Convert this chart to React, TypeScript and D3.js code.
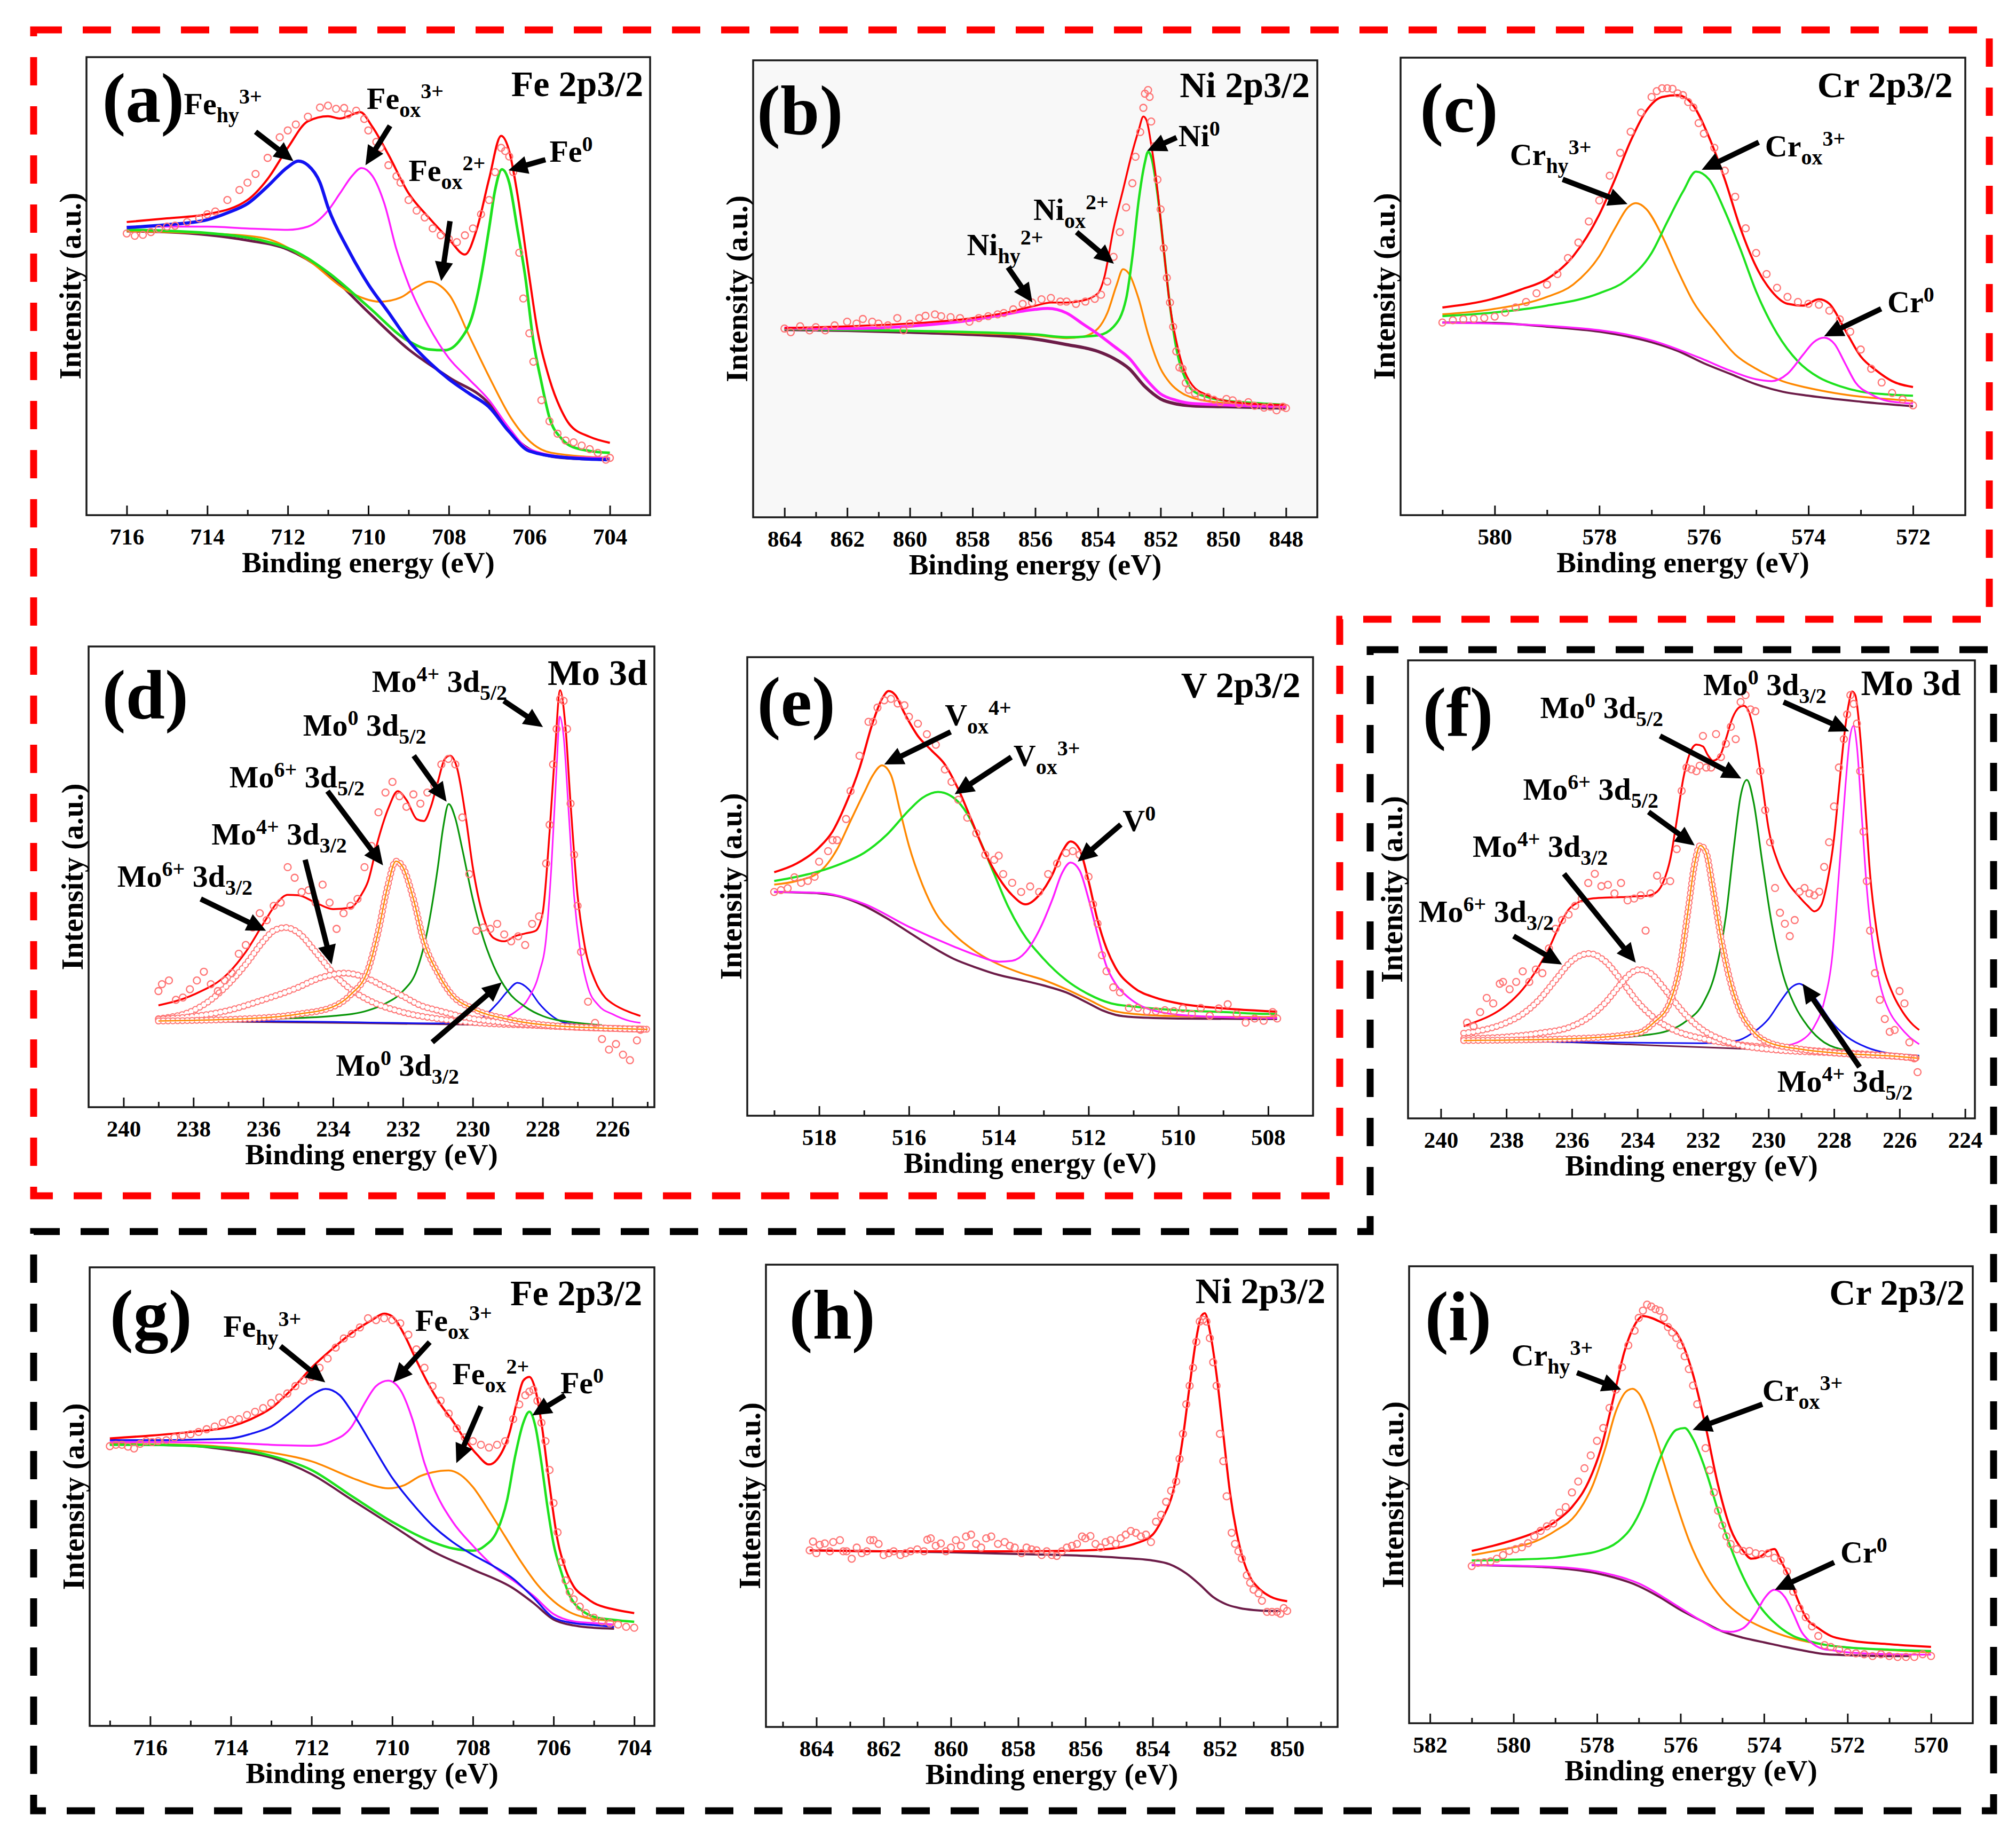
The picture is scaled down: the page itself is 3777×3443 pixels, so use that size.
import React, { useEffect, useRef } from 'react';
import * as d3 from 'd3';

type Pt = [number, number];
type Part = [string, string?];
type Label = { x: number; y: number; parts: Part[] };
type Arrow = [number, number, number, number];

// intensity is in % of the plot height (0 = bottom axis, 100 = top)

// (a) Fe 2p3/2, first sample
const aTicks = [716, 714, 712, 710, 708, 706, 704];
const aMinor = [715, 713, 711, 709, 707, 705];
const aBg: Pt[] = [[716,62],[715,61.8],[714,61.2],[713,60],[712,58],[711,52.7],[710,44.3],[709,36.2],[708,30.1],[707,24.3],[706.5,18.2],[706,14.4],[705.5,12.9],[705,12.4],[704,12.1]];
const aOrange: Pt[] = [[716,62],[714,61.5],[713,61],[712.5,60.3],[711.5,55.7],[710.5,48.9],[709.7,46.6],[709.2,47.5],[708.8,49.8],[708.49,51],[708.2,50],[707.98,48],[707.48,38.9],[706.97,29.7],[706.46,21.3],[705.96,15.9],[705.45,13.6],[704,12.5]];
const aGreen: Pt[] = [[716,62.3],[714,61.6],[712,58.3],[711,53],[710,45.5],[709,38],[708.5,36.2],[708.1,36],[707.7,38.5],[707.4,44],[707.2,52],[707,62.6],[706.85,71],[706.68,75.5],[706.5,72.6],[706.3,62.6],[706.1,52],[705.9,38],[705.7,29],[705.5,21.3],[705.2,16.7],[705,15.2],[704.5,14],[704,13.6]];
const aMag: Pt[] = [[716,63],[714,63],[713,62.6],[712,62.3],[711.5,63],[711,66.5],[710.7,70.3],[710.4,74.1],[710.17,75.8],[709.9,74.1],[709.6,68],[709.3,58],[709,50.4],[708.5,41.2],[708,34.3],[707.5,29.7],[707,25.1],[706.5,19],[706,14.4],[705,12.7],[704,12.5]];
const aBlue: Pt[] = [[716,62.8],[715,63.4],[714,64.5],[713.5,66],[713,68],[712.5,71.8],[712,76],[711.74,77.3],[711.5,76.4],[711.2,72.6],[711,67.2],[710.5,58],[710,50.4],[709.5,44.3],[709,38.1],[708.5,33.5],[708,29.7],[707.5,26.6],[707,23.6],[706.5,18.2],[706,14],[705,12.5],[704,12.1]];
const aRed: Pt[] = [[716,64],[715,64.8],[714,65.7],[713,68.8],[712.5,73.4],[712,80.2],[711.5,86],[711,87.1],[710.7,86.6],[710.5,87.1],[710.2,88],[709.9,84.8],[709.5,78.7],[709,70.3],[708.5,65],[708,60.3],[707.6,56.9],[707.3,62.6],[707,73.4],[706.7,82.8],[706.5,79.5],[706.3,70.3],[706,52],[705.8,40.4],[705.5,29.7],[705.2,22.8],[705,19.8],[704.5,17.1],[704,15.8]];
const aPts: Pt[] = [[716,61.5],[715.8,61],[715.6,61.2],[715.4,61.8],[715.2,62.5],[715,63],[714.8,63.2],[714.5,64],[714.2,64.8],[714,65.7],[713.8,66.3],[713.5,68.8],[713.2,71],[713,72.6],[712.8,74.5],[712.5,78],[712.2,82.5],[712,84],[711.8,85.3],[711.5,87],[711.2,89],[711,89.4],[710.8,88.7],[710.6,88.9],[710.5,87.5],[710.3,88.3],[710.1,86.5],[710,84],[709.8,81.5],[709.7,80.2],[709.5,76.4],[709.3,74],[709.2,72.6],[709,68.8],[708.8,66.5],[708.6,65],[708.4,62.6],[708.2,61.1],[708,60.3],[707.8,59.6],[707.6,61.1],[707.4,62.6],[707.2,65.7],[707,68.8],[706.85,74.9],[706.7,80.2],[706.6,79.5],[706.5,78.3],[706.4,74.9],[706.25,57.3],[706.15,47.3],[706,39.7],[705.9,33.5],[705.7,25.1],[705.5,20.5],[705.3,17.8],[705.1,16.3],[704.9,15.9],[704.7,15.2],[704.5,14.4],[704.3,13.6],[704.1,12.1],[704,12.5]];

// (b) Ni 2p3/2, first sample
const bTicks = [864, 862, 860, 858, 856, 854, 852, 850, 848];
const bMinor = [863, 861, 859, 857, 855, 853, 851, 849];
const bBg: Pt[] = [[864,41.1],[862,40.9],[860,40.5],[858,40],[856,39],[855,37.8],[854,36.3],[853.5,34.8],[853,32.5],[852.5,28.6],[852,25.9],[851.5,24.8],[851,24.4],[850,24.2],[848,23.9]];
const bOrange: Pt[] = [[864,41.2],[860,40.8],[858,40.3],[856,39.8],[855,39.2],[854.5,39.5],[854,41.3],[853.7,44.7],[853.4,50.9],[853.2,54.3],[853,53.2],[852.7,47.8],[852.4,40.1],[852,32.5],[851.7,29.4],[851.3,27.1],[851,26.2],[850,25],[848,24.2]];
const bGreen: Pt[] = [[864,41.2],[860,40.8],[856,40],[855,39.4],[854,39.8],[853.5,41.7],[853.1,47.8],[852.9,57],[852.7,69.3],[852.5,77.7],[852.4,80],[852.3,78.9],[852.1,70.9],[851.9,58.6],[851.7,46.3],[851.5,37.1],[851.2,30.2],[851,27.9],[850.5,26.3],[850,25.6],[849,25],[848,24.6]];
const bMag: Pt[] = [[864,41.4],[862,41.3],[860,41.8],[858,43.2],[857,44.4],[856,45.5],[855.6,45.7],[855,44.7],[854.5,42.4],[854,40.1],[853.5,37.5],[853,34.8],[852.5,30.5],[852,27],[851.5,25.6],[851,24.9],[850,24.6],[848,24.2]];
const bRed: Pt[] = [[864,41.4],[862,41.8],[860,42.4],[858,43.6],[857,44.7],[856,46.3],[855.5,47],[855,47],[854.5,47.4],[854,49],[853.8,52.4],[853.5,63.2],[853.2,71.6],[852.9,80],[852.7,84.7],[852.55,87.7],[852.45,86.9],[852.3,81.6],[852.1,71.6],[851.9,58.6],[851.7,46.3],[851.5,38.6],[851.3,33.2],[851,29],[850.5,26.7],[850,25.6],[849,24.8],[848,24.6]];
const bPts: Pt[] = [[864,41.3],[863.8,40.5],[863.5,41.8],[863.2,40.9],[863,41.6],[862.7,40.9],[862.4,42],[862,42.8],[861.7,42.4],[861.5,43.4],[861.2,42.8],[861,42.4],[860.7,42],[860.4,43.6],[860.2,40.9],[860,42.4],[859.7,43.6],[859.5,44.1],[859.2,44.4],[859,44],[858.7,43.8],[858.4,43.6],[858.1,42.8],[857.8,43.6],[857.5,44],[857.2,44.4],[857,44.7],[856.7,45.5],[856.4,46.7],[856.1,47],[855.8,47.7],[855.5,48],[855.2,47.2],[855,47.2],[854.7,46.7],[854.4,47.2],[854.1,47.8],[853.9,48.7],[853.7,51.6],[853.5,57],[853.3,62.4],[853.1,67.8],[852.9,73.1],[852.8,78.9],[852.65,84.3],[852.55,89.6],[852.5,92.7],[852.4,93.5],[852.35,92],[852.3,86.6],[852.2,81.2],[852.1,73.9],[852,67.4],[851.9,58.9],[851.8,52.4],[851.7,47],[851.6,41.7],[851.5,36.3],[851.4,32.8],[851.3,32.5],[851.2,29.4],[851.1,27.9],[850.9,27.1],[850.7,26.3],[850.5,26.3],[850.3,25.7],[850.1,25.2],[849.9,25.9],[849.7,25.6],[849.5,24.8],[849.2,25.2],[849,24.4],[848.7,24],[848.5,24.2],[848.3,23.4],[848.1,24.2],[848,23.9]];

// (c) Cr 2p3/2, first sample
const cTicks = [580, 578, 576, 574, 572];
const cMinor = [581, 579, 577, 575, 573];
const cBg: Pt[] = [[581,42.1],[580,42],[579,41.2],[578,40.1],[577,37.8],[576.5,35.9],[576,33.2],[575.5,30.9],[575,28.6],[574.5,27],[574,26.1],[573,24.8],[572,23.8]];
const cOrange: Pt[] = [[581,43.9],[580,45.1],[579,47.7],[578.5,50.4],[578,56.6],[577.7,62.7],[577.45,67.3],[577.3,68.2],[577.1,66.9],[576.8,61.1],[576.5,53.5],[576.2,46.6],[575.8,40.5],[575.4,35.1],[575,32],[574.5,29.3],[574,27.8],[573.5,26.7],[573,25.9],[572,25]];
const cGreen: Pt[] = [[581,43.5],[580,44.3],[579,45.8],[578,48.5],[577.5,51.2],[577,57.3],[576.7,64.1],[576.4,70.7],[576.15,75.1],[575.9,73.4],[575.6,66.5],[575.3,58.1],[575,48.9],[574.6,39.7],[574.2,33.6],[573.8,30.1],[573.4,28.2],[573,27],[572.5,26.4],[572,26.1]];
const cMag: Pt[] = [[581,42.1],[579,41.4],[577,38.2],[576,34],[575.5,31.6],[575,29.7],[574.7,29.3],[574.4,30.9],[574.1,35.1],[573.9,37.8],[573.7,38.8],[573.5,37.4],[573.3,33.2],[573.1,29],[572.8,26.4],[572.5,25],[572,24.4]];
const cRed: Pt[] = [[581,45.4],[580,47.4],[579.5,49.3],[579,51.6],[578.5,56.6],[578,65.7],[577.7,73.4],[577.4,81.8],[577.1,88.4],[576.8,91.4],[576.5,91.8],[576.2,89.5],[575.9,82.6],[575.6,73.4],[575.3,62.7],[575,54.3],[574.7,48.9],[574.4,46.2],[574.1,45.8],[573.8,47.2],[573.6,46.2],[573.3,40.5],[573,34.7],[572.7,31.6],[572.4,29.3],[572,28]];
const cPts: Pt[] = [[581,42.1],[580.8,42.6],[580.6,42.8],[580.4,42.9],[580.2,43.1],[580,43.4],[579.8,44.3],[579.6,45.4],[579.4,46.6],[579.2,48.5],[579,50.4],[578.8,52.7],[578.6,56.2],[578.4,59.6],[578.2,64.2],[578,68.8],[577.8,74.2],[577.6,79.2],[577.4,83.8],[577.2,88],[577,91.4],[576.9,92.7],[576.8,93.3],[576.7,93.3],[576.6,93.2],[576.5,92.2],[576.4,91.8],[576.3,90.3],[576.2,89.1],[576.1,85.7],[576,83.4],[575.8,80.3],[575.6,75.3],[575.4,69.6],[575.2,62.7],[575,57.3],[574.8,52.7],[574.6,49.7],[574.4,47.7],[574.2,46.6],[574,46.2],[573.8,46],[573.6,44.7],[573.4,42.8],[573.2,40.1],[573,36.2],[572.8,32],[572.6,29],[572.4,26.7],[572.2,25.3],[572,24]];

// (d) Mo 3d, first sample
const dTicks = [240, 238, 236, 234, 232, 230, 228, 226];
const dMinor = [239, 237, 235, 233, 231, 229, 227, 225];
const dBg: Pt[] = [[239,18.7],[234,18.3],[230,17.9],[227,17.4],[225,16.8]];
const dBlue: Pt[] = [[239,18.9],[234,18.5],[231,18.2],[229.9,18.6],[229.6,20.2],[229.3,22.5],[229,25.2],[228.72,27],[228.4,25.6],[228.1,22.5],[227.8,20.2],[227.4,18.4],[227,17.9],[226.5,17.4],[226,17.2]];
const dMag: Pt[] = [[229.5,18.4],[229.2,19.1],[228.8,20.6],[228.4,23.7],[228.1,29.1],[227.9,36.7],[227.75,52.1],[227.6,73.6],[227.51,84.8],[227.4,80.6],[227.25,63.6],[227.1,46],[226.9,32.9],[226.7,26],[226.4,22.1],[226,20.2],[225.5,18.7],[225.2,18.3]];
const dGreen: Pt[] = [[239,18.7],[236,19.1],[234,19.8],[233,21],[232.5,22.5],[232,25.2],[231.6,29.8],[231.3,38.3],[231,52.1],[230.85,60.6],[230.69,65.8],[230.5,62.7],[230.3,56],[230,45.2],[229.7,36.7],[229.4,30.6],[229,25.2],[228.5,21.8],[228,19.8],[227,18.3],[226.3,17.8]];
const dMo6a: Pt[] = [[239,19.2],[238,21],[237.5,23.3],[237,26.7],[236.5,31],[236,36],[235.7,38.3],[235.36,39],[235,37.9],[234.5,33.7],[234,29.1],[233.5,25.6],[233,23.3],[232,20.6],[231,19.2],[230,18.4],[228,17.7],[226,17.1],[225,16.9]];
const dMo4a: Pt[] = [[239,19.1],[238,19.7],[237,21],[236,23.3],[235,26],[234.5,27.7],[234,28.8],[233.69,29.1],[233.3,28.7],[233,27.9],[232.5,26],[232,24.1],[231.5,22.1],[231,21],[230,19.2],[229,18.3],[228,17.7],[226,17.1],[225,16.9]];
const dMo6b: Pt[] = [[239,18.7],[236,19.4],[235,20.2],[234,21.8],[233.5,24.4],[233,29.8],[232.7,38.3],[232.45,47.5],[232.2,53.4],[232,52.1],[231.7,45.2],[231.4,36],[231,29.1],[230.6,24.4],[230,21.4],[229,19.1],[228,17.9],[226,17.1],[225,16.9]];
const dRed: Pt[] = [[239,22.1],[238,24.4],[237,29.1],[236.5,33.7],[236,39.8],[235.6,44.4],[235.3,46.1],[235,46],[234.5,44.4],[234,43],[233.5,43.3],[233.2,46],[233,49],[232.7,58.3],[232.4,65.2],[232.15,68.6],[231.9,66.7],[231.6,62.5],[231.4,62.1],[231.2,65.2],[231,70.6],[230.8,75.6],[230.65,76.3],[230.45,73.6],[230.2,62.9],[230,52.1],[229.7,41.4],[229.4,36.7],[229.1,36],[228.8,37.1],[228.5,37.7],[228.2,38.3],[228,42.1],[227.8,59.8],[227.65,76.7],[227.5,90.5],[227.35,82.9],[227.2,65.9],[227,46],[226.8,35.2],[226.5,27.5],[226.2,23.7],[226,22.5],[225.5,20.6],[225.2,19.8]];
const dPts: Pt[] = [[239,25.2],[238.9,26.7],[238.7,27.5],[238.5,23.3],[238.3,23.8],[238.1,25.6],[237.9,27.5],[237.7,29.4],[237.5,26.7],[237.3,25.2],[237.1,27.5],[236.9,29.1],[236.7,33.3],[236.5,35.2],[236.3,39],[236.1,42.1],[235.9,40.6],[235.7,43.7],[235.5,44.4],[235.3,52.1],[235.1,49.8],[234.9,46.7],[234.7,47.1],[234.5,44.4],[234.3,48.3],[234.1,44.4],[233.9,38.7],[233.7,42.1],[233.5,43.7],[233.3,45.2],[233.1,52.1],[232.9,56.7],[232.7,64],[232.5,68.3],[232.3,70.6],[232.1,67.5],[231.9,65.2],[231.7,67.9],[231.5,65.9],[231.3,68.3],[231.1,69.8],[230.9,74.4],[230.7,75.6],[230.5,74.4],[230.3,62.9],[230.1,50.6],[229.9,38.3],[229.7,39],[229.5,38.7],[229.3,39.8],[229.1,37.5],[228.9,36],[228.7,37.1],[228.5,35.2],[228.3,39.8],[228.1,41.4],[227.9,52.9],[227.8,61.3],[227.7,74.4],[227.6,82.1],[227.5,88.6],[227.4,88.2],[227.3,82.1],[227.2,65.9],[227.1,54.8],[227,43.7],[226.9,33.7],[226.7,22.9],[226.5,18.3],[226.3,14.8],[226.1,12.5],[225.9,13.7],[225.7,11.4],[225.5,10.2],[225.3,14.5],[225.2,16.8]];

// (e) V 2p3/2, first sample
const eTicks = [518, 516, 514, 512, 510, 508];
const eMinor = [519, 517, 515, 513, 511, 509];
const eBg: Pt[] = [[519,48.8],[518.5,48.7],[518,48.5],[517.5,47.7],[517,45.8],[516.5,43.1],[516,40],[515.5,36.9],[515,34.2],[514.5,32.3],[514,30.7],[513.5,29.6],[513,28.4],[512.5,26.9],[512,24.5],[511.7,23],[511.4,22],[511,21.5],[510,21.2],[508,21.1],[507.8,21.1]];
const eOrange: Pt[] = [[519,50.4],[518.5,51.2],[518,53.1],[517.6,58.1],[517.3,64.3],[517,70.4],[516.8,74.3],[516.6,76.4],[516.4,74.3],[516.2,66.6],[516,58.9],[515.7,50.4],[515.4,44.2],[515,39.6],[514.5,35.7],[514,33],[513.5,31.1],[513,29.6],[512.5,27.6],[512,25.3],[511.5,23],[511,22.2],[510,21.7],[508,21.5],[507.8,21.5]];
const eGreen: Pt[] = [[519,51.2],[518.5,52.1],[518,53.3],[517.5,55],[517,57.3],[516.5,61.2],[516,66.6],[515.7,69.3],[515.35,70.6],[515,69.3],[514.7,65.8],[514.4,59.6],[514.1,52.7],[513.8,45.8],[513.5,40.4],[513,34.2],[512.5,29.6],[512,26.5],[511.5,24.5],[511,23.8],[510,23],[509,22.6],[508,22.2],[507.8,22.2]];
const eMag: Pt[] = [[519,48.8],[518,48.6],[517,46.2],[516,41.2],[515,36.9],[514.5,35],[514,33.6],[513.7,33.8],[513.4,35.7],[513.1,40.4],[512.8,47.3],[512.6,52.7],[512.4,55.2],[512.2,53.5],[512,47.3],[511.8,39.6],[511.6,32.6],[511.4,28.8],[511.1,25.7],[510.8,23.8],[510.4,22.6],[510,22],[509,21.5],[508,21.3],[507.8,21.3]];
const eRed: Pt[] = [[519,53.1],[518.5,55],[518,58.5],[517.7,62],[517.4,68.1],[517.1,75.8],[516.8,85.9],[516.6,90.9],[516.45,92.6],[516.3,91.7],[516.1,87.8],[515.8,82.8],[515.5,79.7],[515.2,76.6],[514.9,71.2],[514.6,64.3],[514.3,57.3],[514,51.9],[513.7,48.1],[513.4,46.1],[513.1,48.1],[512.8,52.7],[512.6,57.3],[512.4,59.8],[512.2,58.1],[512,51.2],[511.8,42.7],[511.6,36.5],[511.4,32.3],[511,28],[510.5,25.7],[510,24.5],[509,23.4],[508,22.8],[507.8,22.7]];
const ePts: Pt[] = [[519,48.8],[518.85,49.2],[518.7,49.6],[518.55,52],[518.4,50.8],[518.25,51.2],[518.1,52.1],[518,55.4],[517.8,57.7],[517.7,60.1],[517.6,60.1],[517.4,64.7],[517.3,70.8],[517.1,78.5],[516.9,85.9],[516.8,85.9],[516.7,89],[516.55,90.6],[516.4,90.9],[516.25,89.9],[516.1,89.5],[516,87],[515.8,85.5],[515.6,83.2],[515.4,80.9],[515.2,75.5],[515.05,72.8],[514.9,68.9],[514.7,65],[514.5,61.6],[514.3,56.9],[514.1,55.8],[514,56.7],[513.9,52.7],[513.7,50.8],[513.5,48.8],[513.3,50],[513.1,48.8],[512.9,52.7],[512.7,55],[512.5,57.3],[512.35,57.7],[512.2,56.9],[512,52.1],[511.9,46.1],[511.8,41.9],[511.7,35],[511.6,31.5],[511.45,28],[511.3,26.9],[511.1,23.5],[510.9,23.5],[510.7,22.8],[510.5,22.8],[510.3,23],[510.1,22.8],[509.9,23.4],[509.7,22.2],[509.5,23.5],[509.3,21.8],[509.1,23.4],[508.9,24.3],[508.7,22.2],[508.5,20.3],[508.3,21.2],[508.1,20.7],[507.9,22.6],[507.8,21.2]];

// (f) Mo 3d, second sample
const fTicks = [240, 238, 236, 234, 232, 230, 228, 226, 224];
const fMinor = [239, 237, 235, 233, 231, 229, 227, 225];
const fBg: Pt[] = [[239.3,17.2],[236,16.6],[233,15.8],[230,15],[228,14.4],[226,13.6],[225.4,13.2]];
const fBlue: Pt[] = [[239.3,16.9],[235,16.6],[232,16.4],[231,16.9],[230.5,18.6],[230,21.7],[229.6,25.9],[229.3,28.6],[229.06,29.4],[228.8,28.2],[228.5,25.5],[228.1,21.3],[227.6,17.8],[227,15.5],[226.4,14.3],[225.8,13.9],[225.4,13.7]];
const fMag: Pt[] = [[229.5,15.9],[229,17],[228.6,20.1],[228.3,25.5],[228.05,35.6],[227.85,53.4],[227.65,72.7],[227.52,82.8],[227.41,85.7],[227.3,81.2],[227.15,65.7],[227,50.3],[226.8,37.1],[226.6,29.4],[226.3,23.2],[226,20.1],[225.7,17.8],[225.4,16.2]];
const fGreen: Pt[] = [[239.3,17],[236,17.2],[234,18],[233,19.3],[232.5,21.3],[232,25.1],[231.6,32.5],[231.3,44.1],[231.05,59.6],[230.85,70.4],[230.66,73.9],[230.45,68.9],[230.2,56.5],[229.9,42.5],[229.6,32.5],[229.2,24.7],[228.8,20.1],[228.3,16.6],[227.5,14.7],[226.5,13.9],[225.4,13.5]];
const fMo6a: Pt[] = [[239.3,18.6],[239,18.9],[238,20.9],[237.5,22.8],[237,25.9],[236.5,30.2],[236,34.4],[235.47,36],[235,34.4],[234.5,30.2],[234,25.5],[233.5,22],[233,19.7],[232,17.4],[231,16.2],[230,15.5],[228,14.5],[226,13.5],[225.4,13.1]];
const fMo4a: Pt[] = [[239.3,17.4],[238,17.8],[237,18.6],[236,20.1],[235.5,22],[235,25.1],[234.5,29.4],[234.2,31.7],[233.92,32.5],[233.6,31.7],[233.3,29.4],[233,26.7],[232.5,22.4],[232,19.3],[231.5,17.4],[231,16.2],[230,15.1],[228,14.3],[226,13.5],[225.4,13.1]];
const fMo6b: Pt[] = [[239.3,17],[236,17.4],[234,18.6],[233.5,20.9],[233,25.5],[232.7,33.3],[232.45,45.6],[232.25,55.7],[232.08,59.6],[231.9,58],[231.7,50.3],[231.45,39.4],[231.2,30.9],[230.9,24],[230.5,19.3],[230,16.6],[229,15.1],[228,14.3],[226,13.5],[225.4,13.1]];
const fRed: Pt[] = [[239.3,20.1],[239,20.9],[238.5,22.4],[238,24.7],[237.5,28.2],[237,33.3],[236.7,37.1],[236.4,41.8],[236.1,45.6],[235.8,47.2],[235.4,48],[235,48.2],[234.5,48.3],[234,48.5],[233.7,48.6],[233.4,49.5],[233.2,51.8],[233,56.5],[232.8,65],[232.6,74.2],[232.4,79.7],[232.2,81.6],[232,81.2],[231.85,79.3],[231.7,78.1],[231.5,78.9],[231.3,82.8],[231.1,87.4],[230.9,89.7],[230.75,90.1],[230.6,88.8],[230.4,82.8],[230.2,73.5],[230,63.4],[229.7,55.7],[229.4,51.4],[229.1,48.7],[228.8,46.4],[228.6,45.2],[228.4,46.4],[228.2,51.8],[228,61.1],[227.85,71.9],[227.7,82.8],[227.55,90.5],[227.45,93.2],[227.35,92.4],[227.2,83.5],[227.05,68.8],[226.9,53.4],[226.7,41],[226.5,33.3],[226.2,27.1],[225.9,23.2],[225.6,20.5],[225.4,19.3]];
const fPts: Pt[] = [[239.2,20.9],[239,20.1],[238.8,23.2],[238.6,26.3],[238.4,25.1],[238.2,29.4],[238.1,29.8],[237.9,28.2],[237.7,29.8],[237.5,32.1],[237.3,29.8],[237.1,32.5],[236.9,31.7],[236.7,37.1],[236.5,41.4],[236.3,43.3],[236.1,44.5],[235.9,46.4],[235.7,48],[235.5,51.4],[235.3,53.4],[235.1,50.7],[234.9,51],[234.7,49.1],[234.5,51.4],[234.3,47.6],[234.1,48],[233.9,48.7],[233.75,41],[233.6,49.1],[233.4,53],[233.2,51.8],[233,51.8],[232.8,58.8],[232.65,71.5],[232.5,76.6],[232.35,76.2],[232.2,75.8],[232.1,77],[232,83.5],[231.9,76.6],[231.75,76.6],[231.6,83.9],[231.45,78.9],[231.3,81.8],[231.15,85.5],[231,82.8],[230.85,90.9],[230.7,92.4],[230.55,89.3],[230.4,88.9],[230.25,75.8],[230.1,67.3],[229.95,60.3],[229.8,50.3],[229.65,44.9],[229.5,42.5],[229.35,39.8],[229.2,43.3],[229.05,49.5],[228.9,50.3],[228.75,49.1],[228.6,48.7],[228.45,49.5],[228.3,54.9],[228.15,60.3],[228,68.1],[227.85,76.6],[227.7,82.8],[227.6,88.2],[227.5,92.4],[227.4,90.5],[227.3,86.2],[227.2,75.8],[227.1,62.6],[227,51.8],[226.9,41],[226.75,31.7],[226.6,25.9],[226.45,21.7],[226.3,18.9],[226.15,19.3],[226,27.8],[225.85,25.1],[225.7,16.6],[225.55,13.1],[225.45,10.1]];

// (g) Fe 2p3/2, second sample
const gTicks = [716, 714, 712, 710, 708, 706, 704];
const gMinor = [717, 715, 713, 711, 709, 707, 705];
const gBg: Pt[] = [[717,61.5],[716,61.3],[715,61.1],[714,60.1],[713,58.5],[712,54.9],[711,49.3],[710,43.7],[709,38.1],[708,34.1],[707,30],[706.5,26.8],[706,23.2],[705.5,21.9],[705,21.4],[704.5,21.2]];
const gOrange: Pt[] = [[717,61.5],[715,61.3],[714,60.7],[713,59.6],[712,57.7],[711,54.1],[710.5,52.5],[710.1,51.8],[709.7,52.5],[709.3,54.5],[709,55.3],[708.6,55.7],[708.3,54.7],[708,52.1],[707.6,46.9],[707.2,41.3],[706.8,35.7],[706.4,30.8],[706,27.2],[705.6,24.8],[705.2,23.6],[704.8,23.1],[704.3,22.8]];
const gGreen: Pt[] = [[717,61.3],[716,61.3],[714,60.5],[713,58.9],[712,55.8],[711,50.1],[710,44.5],[709,40.1],[708.5,38.7],[708,38.2],[707.7,39.3],[707.4,42.5],[707.15,49.3],[706.95,58.9],[706.75,66.1],[706.6,68.5],[706.45,65.3],[706.3,57.3],[706.15,47.7],[706,39.7],[705.8,33.3],[705.6,28.4],[705.3,25.2],[705,23.8],[704.5,23.1],[704,22.7]];
const gMag: Pt[] = [[717,61.9],[716,61.9],[714,61.7],[713,61.3],[712,61.1],[711.5,62.1],[711,65.3],[710.7,70.1],[710.4,74.1],[710.1,75.3],[709.8,73.3],[709.5,66.9],[709.2,57.3],[709,52.5],[708.5,44.5],[708,39.3],[707.5,34.9],[707,31.7],[706.5,28.4],[706,24.4],[705.5,22.8],[705,22.4],[704.5,22.1]];
const gBlue: Pt[] = [[717,62.3],[716,62.3],[715,62.4],[714,62.7],[713.5,63.7],[713,65.3],[712.5,68.5],[712,72.1],[711.65,73.5],[711.3,72.1],[711,68.5],[710.5,61.3],[710,54.1],[709.5,48.5],[709,43.7],[708.5,40.1],[708,37.3],[707.5,34.9],[707,32.1],[706.5,28],[706,23.6],[705.5,22.4],[705,22],[704.5,21.6]];
const gRed: Pt[] = [[717,62.7],[716,63.3],[715,64.1],[714,65.3],[713.5,66.9],[713,69.3],[712.5,73.3],[712,78.1],[711.5,82.1],[711,85.7],[710.5,88.5],[710.2,89.9],[710,89.3],[709.7,85.3],[709.4,79.7],[709.1,74.5],[708.8,70.1],[708.5,66.5],[708.2,62.5],[707.9,59.2],[707.6,57],[707.4,58.1],[707.1,63.7],[706.9,70.9],[706.75,75.3],[706.6,76.1],[706.45,73.3],[706.3,66.1],[706.1,52.5],[705.9,40.5],[705.7,34.1],[705.5,30.4],[705.2,28],[705,26.8],[704.5,25.4],[704,24.6]];
const gPts: Pt[] = [[717,61],[716.85,61.3],[716.7,61.3],[716.55,60.9],[716.4,60.5],[716.25,61.5],[716.1,62.1],[715.95,61.9],[715.8,62.1],[715.6,62.3],[715.4,62.9],[715.2,63.3],[715,63.6],[714.8,64.1],[714.6,64.7],[714.4,65.3],[714.2,66.1],[714,66.7],[713.8,66.9],[713.6,67.8],[713.4,68.5],[713.2,69.3],[713,70.4],[712.8,71.6],[712.6,72.5],[712.4,74.1],[712.2,75.3],[712,76.1],[711.8,78.1],[711.6,80.1],[711.4,82.5],[711.2,84.5],[711,85.5],[710.8,86.9],[710.6,88.9],[710.4,88.5],[710.2,88.9],[710,88.5],[709.8,87.8],[709.6,85.3],[709.4,82.1],[709.2,78.1],[709,74.1],[708.8,70.9],[708.6,68.1],[708.4,64.9],[708.2,62.9],[708,62.1],[707.8,61.3],[707.6,60.7],[707.4,61.3],[707.2,62.1],[707,66.9],[706.85,70.1],[706.7,72.1],[706.6,72.9],[706.5,73.3],[706.4,70.9],[706.3,66.1],[706.2,62.1],[706.1,55.8],[706,48.6],[705.9,42.2],[705.8,35.8],[705.7,31.7],[705.6,29.2],[705.5,27.6],[705.35,26],[705.2,24.6],[705,23.6],[704.8,22.8],[704.6,22.4],[704.4,22.1],[704.2,21.6],[704,21.4]];

// (h) Ni 2p3/2, second sample
const hTicks = [864, 862, 860, 858, 856, 854, 852, 850];
const hMinor = [865, 863, 861, 859, 857, 855, 853, 851, 849];
const hBg: Pt[] = [[864.2,38.2],[862,38],[860,37.8],[858,37.4],[856,37],[855,36.6],[854,36],[853.5,35.2],[853,33.2],[852.6,30.8],[852.2,28.1],[851.8,26.5],[851.4,25.7],[851,25.3],[850.5,25.1],[850.2,25.1]];
const hRed: Pt[] = [[864.2,38.2],[862,38],[860,38],[858,38],[856,38.2],[855,38.8],[854.5,39.7],[854,41.6],[853.7,45.2],[853.4,50.7],[853.1,62.6],[852.9,73.8],[852.7,84.1],[852.55,88.9],[852.45,89.5],[852.3,85.7],[852.1,76.2],[851.9,63.4],[851.7,50.7],[851.5,42],[851.3,36],[851.1,32.4],[850.8,29.7],[850.5,28.2],[850,27.2]];
const hPts: Pt[] = [[864.2,38.2],[864.1,40.1],[864,37.6],[863.9,39.4],[863.75,39.7],[863.6,38],[863.5,40],[863.3,40.4],[863.2,38],[863.1,38],[862.95,36.4],[862.8,38.8],[862.65,37.6],[862.5,38],[862.4,40.4],[862.3,40.4],[862.15,39.6],[862,37.2],[861.85,37.6],[861.7,38],[861.5,37.2],[861.35,37.6],[861.2,38],[861,38.4],[860.8,38],[860.7,40.5],[860.6,40.8],[860.45,39.2],[860.3,39.7],[860.15,38],[860,38.8],[859.85,40.4],[859.7,39.2],[859.55,41.2],[859.4,41.6],[859.25,39.6],[859.1,38.8],[858.95,40.8],[858.8,41.2],[858.6,39.6],[858.4,40],[858.25,39.2],[858.1,38.8],[857.9,37.6],[857.75,38.8],[857.6,38.4],[857.45,38.2],[857.3,37.2],[857.15,38],[857,37.2],[856.85,37],[856.7,38],[856.55,38.8],[856.4,39.2],[856.25,39.6],[856.1,41.2],[856,40.8],[855.85,41.3],[855.7,39.6],[855.55,38.8],[855.4,40],[855.25,40.4],[855.1,39.6],[854.95,40.8],[854.8,41.6],[854.65,42.4],[854.5,42],[854.35,41.2],[854.2,41.6],[854.05,40],[853.9,44.4],[853.75,45.9],[853.6,48.7],[853.45,51.1],[853.3,53.1],[853.2,58],[853.1,63.4],[853,69.8],[852.9,73.8],[852.8,77.7],[852.7,83.3],[852.6,87.7],[852.5,88.1],[852.4,87.7],[852.3,84.1],[852.2,78.9],[852.1,73.8],[852,63.4],[851.9,57.5],[851.8,49.9],[851.65,42],[851.55,39.6],[851.45,38],[851.35,36.4],[851.2,32.8],[851.1,31.2],[851,29.7],[850.85,28.9],[850.75,27.3],[850.6,24.9],[850.45,24.9],[850.3,24.9],[850.2,24.5],[850.1,25.7],[850,25.1]];

// (i) Cr 2p3/2, second sample
const iTicks = [582, 580, 578, 576, 574, 572, 570];
const iMinor = [581, 579, 577, 575, 573, 571];
const iBg: Pt[] = [[581,34.6],[580,34.4],[579,34],[578,32.8],[577,30],[576.5,27.6],[576,24.8],[575.5,22.4],[575,20.1],[574.5,18.7],[574,17.7],[573.5,16.7],[573,15.8],[572.5,15.1],[572,14.9],[571,14.7],[570.5,14.7]];
const iOrange: Pt[] = [[581,36.8],[580.5,37.6],[580,38.5],[579.5,39.7],[579,42.1],[578.5,45.7],[578.1,52.1],[577.8,60.2],[577.55,68.2],[577.3,72.6],[577.15,73.2],[577,72.2],[576.7,65.8],[576.4,57],[576.1,48.1],[575.8,40.1],[575.4,32.4],[575,27.2],[574.5,23.2],[574,20.8],[573.5,19.1],[573,17.9],[572.5,17.1],[572,16.6],[571,16],[570,15.5]];
const iGreen: Pt[] = [[581,35.6],[580,35.8],[579,36.2],[578.5,36.8],[578,37.6],[577.5,39.7],[577.2,42.5],[576.9,47.7],[576.6,55.4],[576.3,61.8],[576.1,64.2],[575.9,64.6],[575.7,62.2],[575.4,55.4],[575.1,46.5],[574.8,38.5],[574.5,32],[574.1,25.6],[573.7,21.6],[573.3,19.1],[572.9,17.9],[572.5,17.1],[572,16.6],[571,16.1],[570,15.8]];
const iMag: Pt[] = [[581,34.6],[579,34.2],[578,33.2],[577,30.6],[576,25.2],[575.5,22.4],[575.1,20.4],[574.8,20],[574.5,20.8],[574.2,24],[574,27.2],[573.75,29.2],[573.5,27.6],[573.3,24],[573.1,20],[572.9,17.9],[572.6,16.3],[572.3,15.9],[572,15.5],[571,15.1],[570,15]];
const iRed: Pt[] = [[581,37.7],[580.5,38.8],[580,40.1],[579.5,41.7],[579,44.1],[578.6,47.3],[578.2,52.9],[577.9,60.2],[577.6,71.4],[577.35,81.1],[577.1,87.1],[576.9,89.1],[576.7,88.7],[576.5,87.9],[576.3,86.9],[576.1,85.5],[575.9,81.9],[575.7,76.3],[575.4,65],[575.1,52.1],[574.8,42.5],[574.5,37.7],[574.3,36],[574.1,36.4],[573.9,37.7],[573.75,38.1],[573.6,35.6],[573.4,32],[573.2,27.2],[573,23.2],[572.7,20.8],[572.4,19.1],[572,18.2],[571,17.3],[570,16.7]];
const iPts: Pt[] = [[581,34.4],[580.85,35.1],[580.7,35.2],[580.55,35.4],[580.4,36],[580.25,36.8],[580.1,37.7],[579.95,38.1],[579.8,38.5],[579.65,39.4],[579.5,40.9],[579.35,42.1],[579.2,43.1],[579.05,43.7],[578.9,46.1],[578.75,47.3],[578.6,50.5],[578.45,52.9],[578.3,55.8],[578.15,58.6],[578,61.8],[577.85,64.6],[577.7,69],[577.55,73],[577.4,77.9],[577.25,82.7],[577.1,85.9],[577,88.7],[576.9,90.3],[576.8,91.6],[576.7,91.2],[576.6,90.6],[576.5,90.3],[576.4,88.7],[576.3,86.7],[576.2,85.5],[576.1,84.3],[576,82.7],[575.9,80.3],[575.8,77.5],[575.7,73.9],[575.6,69.8],[575.5,65],[575.4,60.2],[575.3,55.4],[575.2,50.5],[575.1,46.5],[575,43.3],[574.9,40.9],[574.8,39.2],[574.65,38.1],[574.5,37.7],[574.35,37.7],[574.2,37.2],[574.05,37],[573.9,37.2],[573.75,36.2],[573.6,35.6],[573.45,33.2],[573.3,28.8],[573.15,25.2],[573,23.2],[572.85,21.2],[572.7,19.1],[572.55,17.1],[572.4,16.7],[572.2,16.1],[572,15.5],[571.8,15.3],[571.6,15.1],[571.4,14.7],[571.2,15.1],[571,14.7],[570.8,14.5],[570.6,14.5],[570.4,14.5],[570.2,15.1],[570,14.7]];

// annotations (eV, % height, text parts)
const aLabels: Label[] = [
  { x: 714.58, y: 87.5, parts: [['Fe'], ['hy', 'sub'], ['3+', 'sup']] },
  { x: 710.04, y: 88.7, parts: [['Fe'], ['ox', 'sub'], ['3+', 'sup']] },
  { x: 709.0, y: 73.0, parts: [['Fe'], ['ox', 'sub'], ['2+', 'sup']] },
  { x: 705.5, y: 77.2, parts: [['Fe'], ['0', 'sup']] },
];
const aArrows: Arrow[] = [[712.8, 83.7, 711.86, 77.3], [709.46, 85, 710.07, 76.4], [707.97, 64.2, 708.19, 51.1], [705.6, 77.6, 706.52, 75.3]];
const bLabels: Label[] = [
  { x: 858.18, y: 57.4, parts: [['Ni'], ['hy', 'sub'], ['2+', 'sup']] },
  { x: 856.06, y: 65.1, parts: [['Ni'], ['ox', 'sub'], ['2+', 'sup']] },
  { x: 851.43, y: 81.2, parts: [['Ni'], ['0', 'sup']] },
];
const bArrows: Arrow[] = [[856.87, 54.7, 856.09, 47], [854.68, 62.4, 853.49, 55.5], [851.49, 83.1, 852.43, 80.2]];
const cLabels: Label[] = [
  { x: 579.71, y: 76.5, parts: [['Cr'], ['hy', 'sub'], ['3+', 'sup']] },
  { x: 574.83, y: 78.4, parts: [['Cr'], ['ox', 'sub'], ['3+', 'sup']] },
  { x: 572.49, y: 44.3, parts: [['Cr'], ['0', 'sup']] },
];
const cArrows: Arrow[] = [[578.7, 73.4, 577.46, 68], [574.95, 81.5, 576.04, 75.5], [572.61, 45.1, 573.7, 39.1]];
const dLabels: Label[] = [
  { x: 232.89, y: 90.2, parts: [['Mo'], ['4+', 'sup'], [' 3d'], ['5/2', 'sub']] },
  { x: 234.86, y: 80.6, parts: [['Mo'], ['0', 'sup'], [' 3d'], ['5/2', 'sub']] },
  { x: 236.97, y: 69.4, parts: [['Mo'], ['6+', 'sup'], [' 3d'], ['5/2', 'sub']] },
  { x: 237.48, y: 57.0, parts: [['Mo'], ['4+', 'sup'], [' 3d'], ['3/2', 'sub']] },
  { x: 240.18, y: 47.9, parts: [['Mo'], ['6+', 'sup'], [' 3d'], ['3/2', 'sub']] },
  { x: 233.92, y: 6.8, parts: [['Mo'], ['0', 'sup'], [' 3d'], ['3/2', 'sub']] },
];
const dArrows: Arrow[] = [[229.11, 88.2, 227.99, 82.5], [231.69, 76.3, 230.75, 66.3], [234.16, 68.6, 232.57, 52.5], [234.8, 53.7, 234.04, 31], [237.79, 45.2, 235.92, 38.3], [231.16, 14.1, 229.17, 27.1]];
const eLabels: Label[] = [
  { x: 515.2, y: 85.1, parts: [['V'], ['ox', 'sub'], ['4+', 'sup']] },
  { x: 513.67, y: 76.2, parts: [['V'], ['ox', 'sub'], ['3+', 'sup']] },
  { x: 511.24, y: 62, parts: [['V'], ['0', 'sup']] },
];
const eArrows: Arrow[] = [[515.07, 83.7, 516.55, 76.6], [513.72, 78.2, 514.98, 70.1], [511.28, 63.5, 512.24, 55.4]];
const fLabels: Label[] = [
  { x: 231.99, y: 92.4, parts: [['Mo'], ['0', 'sup'], [' 3d'], ['3/2', 'sub']] },
  { x: 236.97, y: 87.4, parts: [['Mo'], ['0', 'sup'], [' 3d'], ['5/2', 'sub']] },
  { x: 237.49, y: 69.6, parts: [['Mo'], ['6+', 'sup'], [' 3d'], ['5/2', 'sub']] },
  { x: 239.03, y: 57.1, parts: [['Mo'], ['4+', 'sup'], [' 3d'], ['3/2', 'sub']] },
  { x: 240.68, y: 42.9, parts: [['Mo'], ['6+', 'sup'], [' 3d'], ['3/2', 'sub']] },
  { x: 229.73, y: 5.8, parts: [['Mo'], ['4+', 'sup'], [' 3d'], ['5/2', 'sub']] },
];
const fArrows: Arrow[] = [[229.54, 90.9, 227.54, 84.5], [233.31, 83.5, 230.83, 74.2], [233.66, 66.9, 232.25, 59.6], [236.24, 53.4, 234.05, 34], [237.78, 39.8, 236.3, 33.6], [227.22, 11.2, 228.96, 29.4]];
const gLabels: Label[] = [
  { x: 714.19, y: 84.9, parts: [['Fe'], ['hy', 'sub'], ['3+', 'sup']] },
  { x: 709.43, y: 86.1, parts: [['Fe'], ['ox', 'sub'], ['3+', 'sup']] },
  { x: 708.51, y: 74.5, parts: [['Fe'], ['ox', 'sub'], ['2+', 'sup']] },
  { x: 705.83, y: 72.5, parts: [['Fe'], ['0', 'sup']] },
];
const gArrows: Arrow[] = [[712.77, 82.8, 711.66, 74.9], [709.07, 83.7, 709.98, 74.9], [707.8, 69.7, 708.41, 57.3], [705.72, 72.1, 706.53, 67.7]];
const iLabels: Label[] = [
  { x: 580.05, y: 78.3, parts: [['Cr'], ['hy', 'sub'], ['3+', 'sup']] },
  { x: 574.04, y: 70.6, parts: [['Cr'], ['ox', 'sub'], ['3+', 'sup']] },
  { x: 572.17, y: 35.2, parts: [['Cr'], ['0', 'sup']] },
];
const iArrows: Arrow[] = [[578.48, 76.7, 577.42, 73], [574.04, 69.8, 575.71, 64.2], [572.32, 35.2, 573.74, 29.2]];

const RED = '#ff0000';
const GRN = '#1ee21e';
const DGRN = '#0a960a';
const BLU = '#1212f2';
const MAG = '#ff1eff';
const ORG = '#ff8800';
const BGC = '#6c1c48';
const PTC = '#ff7474';
const FONT = '"Liberation Serif", "Times New Roman", serif';

type Curve = { d: Pt[]; c: string; w: number; ring?: boolean };
type Panel = {
  box: [number, number, number, number];
  dom: [number, number];
  major: number[];
  minor: number[];
  letter: [string, number, number];
  title: [string, number, number];
  fill: string;
  curves: Curve[];
  pts: Pt[];
  labels: Label[];
  arrows: Arrow[];
};

const panels: Panel[] = [
  {
    box: [162, 107, 1218, 965], dom: [717, 703], major: aTicks, minor: aMinor,
    letter: ['(a)', 716.61, 85.9], title: ['Fe 2p3/2', 703.17, 91.5], fill: '#fff',
    curves: [{ d: aBg, c: BGC, w: 5 }, { d: aOrange, c: ORG, w: 3.5 }, { d: aGreen, c: GRN, w: 5 }, { d: aMag, c: MAG, w: 3.5 }, { d: aBlue, c: BLU, w: 6 }, { d: aRed, c: RED, w: 4 }],
    pts: aPts, labels: aLabels, arrows: aArrows,
  },
  {
    box: [1411, 113, 2468, 969], dom: [865, 847], major: bTicks, minor: bMinor,
    letter: ['(b)', 864.88, 83.9], title: ['Ni 2p3/2', 847.24, 91.9], fill: '#f8f8f8',
    curves: [{ d: bBg, c: BGC, w: 6 }, { d: bOrange, c: ORG, w: 3.5 }, { d: bGreen, c: GRN, w: 4.5 }, { d: bMag, c: MAG, w: 5.5 }, { d: bRed, c: RED, w: 3.5 }],
    pts: bPts, labels: bLabels, arrows: bArrows,
  },
  {
    box: [2624, 108, 3682, 965], dom: [581.8, 571], major: cTicks, minor: cMinor,
    letter: ['(c)', 581.43, 83.8], title: ['Cr 2p3/2', 571.24, 91.4], fill: '#fff',
    curves: [{ d: cBg, c: BGC, w: 4 }, { d: cOrange, c: ORG, w: 3.5 }, { d: cGreen, c: GRN, w: 4 }, { d: cMag, c: MAG, w: 3.5 }, { d: cRed, c: RED, w: 4 }],
    pts: cPts, labels: cLabels, arrows: cArrows,
  },
  {
    box: [166, 1211, 1226, 2074], dom: [241, 224.8], major: dTicks, minor: dMinor,
    letter: ['(d)', 240.61, 84.4], title: ['Mo 3d', 225.0, 91.7], fill: '#fff',
    curves: [{ d: dBg, c: BGC, w: 3 }, { d: dBlue, c: BLU, w: 3 }, { d: dMag, c: MAG, w: 3 }, { d: dGreen, c: DGRN, w: 3.2 },
      { d: dMo6a, c: PTC, w: 0, ring: true }, { d: dMo4a, c: PTC, w: 0, ring: true }, { d: dMo6b, c: PTC, w: 0, ring: true }, { d: dMo6b, c: ORG, w: 2.5 }, { d: dRed, c: RED, w: 3.5 }],
    pts: dPts, labels: dLabels, arrows: dArrows,
  },
  {
    box: [1400, 1231, 2460, 2090], dom: [519.6, 507], major: eTicks, minor: eMinor,
    letter: ['(e)', 519.38, 85.1], title: ['V 2p3/2', 507.28, 91.3], fill: '#fff',
    curves: [{ d: eBg, c: BGC, w: 4 }, { d: eOrange, c: ORG, w: 3.5 }, { d: eGreen, c: GRN, w: 4 }, { d: eMag, c: MAG, w: 3.5 }, { d: eRed, c: RED, w: 4 }],
    pts: ePts, labels: eLabels, arrows: eArrows,
  },
  {
    box: [2638, 1237, 3700, 2095], dom: [241, 223.7], major: fTicks, minor: fMinor,
    letter: ['(f)', 240.55, 83.5], title: ['Mo 3d', 224.13, 92.4], fill: '#fff',
    curves: [{ d: fBg, c: BGC, w: 3 }, { d: fBlue, c: BLU, w: 3 }, { d: fMag, c: MAG, w: 3 }, { d: fGreen, c: DGRN, w: 3.2 },
      { d: fMo6a, c: PTC, w: 0, ring: true }, { d: fMo4a, c: PTC, w: 0, ring: true }, { d: fMo6b, c: PTC, w: 0, ring: true }, { d: fMo6b, c: ORG, w: 2.5 }, { d: fRed, c: RED, w: 3.5 }],
    pts: fPts, labels: fLabels, arrows: fArrows,
  },
  {
    box: [168, 2374, 1226, 3233], dom: [717.5, 703.5], major: gTicks, minor: gMinor,
    letter: ['(g)', 717.0, 84.5], title: ['Fe 2p3/2', 703.8, 91.7], fill: '#fff',
    curves: [{ d: gBg, c: BGC, w: 4 }, { d: gOrange, c: ORG, w: 3.5 }, { d: gGreen, c: GRN, w: 4.5 }, { d: gMag, c: MAG, w: 3.5 }, { d: gBlue, c: BLU, w: 3.5 }, { d: gRed, c: RED, w: 4 }],
    pts: gPts, labels: gLabels, arrows: gArrows,
  },
  {
    box: [1435, 2369, 2506, 3235], dom: [865.5, 848.5], major: hTicks, minor: hMinor,
    letter: ['(h)', 864.81, 84.1], title: ['Ni 2p3/2', 848.86, 91.7], fill: '#fff',
    curves: [{ d: hBg, c: BGC, w: 4 }, { d: hRed, c: RED, w: 4 }],
    pts: hPts, labels: [], arrows: [],
  },
  {
    box: [2640, 2372, 3696, 3228], dom: [582.5, 569], major: iTicks, minor: iMinor,
    letter: ['(i)', 582.12, 83.9], title: ['Cr 2p3/2', 569.19, 91.6], fill: '#fff',
    curves: [{ d: iBg, c: BGC, w: 4 }, { d: iOrange, c: ORG, w: 3.5 }, { d: iGreen, c: GRN, w: 4 }, { d: iMag, c: MAG, w: 3.5 }, { d: iRed, c: RED, w: 4 }],
    pts: iPts, labels: iLabels, arrows: iArrows,
  },
];

const App = () => {
  const svgRef = useRef<SVGSVGElement>(null);

  useEffect(() => {
    const svg = d3.select(svgRef.current);
    svg.selectAll('*').remove();

    svg.append('rect').attr('width', 3777).attr('height', 3443).attr('fill', '#fff');

    // dashed group frames
    svg.append('path')
      .attr('d', 'M63,56 H3727 V1160 H2510 V2240 H63 Z')
      .attr('fill', 'none').attr('stroke', '#ff0000').attr('stroke-width', 13).attr('stroke-dasharray', '53 39');
    svg.append('path')
      .attr('d', 'M2567,1217 H3735 V3392 H63 V2307 H2567 Z')
      .attr('fill', 'none').attr('stroke', '#000').attr('stroke-width', 13).attr('stroke-dasharray', '53 39');

    panels.forEach((p) => {
      const [l, t, r, b] = p.box;
      const x = d3.scaleLinear().domain(p.dom).range([l, r]);
      const y = d3.scaleLinear().domain([0, 100]).range([b, t]);
      const g = svg.append('g');

      g.append('rect').attr('x', l).attr('y', t).attr('width', r - l).attr('height', b - t).attr('fill', p.fill);

      const line = d3.line<Pt>().x((d) => x(d[0])).y((d) => y(d[1])).curve(d3.curveMonotoneX);

      p.curves.forEach((cv) => {
        if (cv.ring) {
          g.append('path').attr('d', line(cv.d)).attr('fill', 'none').attr('stroke', PTC)
            .attr('stroke-width', 13).attr('stroke-linecap', 'round').attr('stroke-dasharray', '0 9');
          g.append('path').attr('d', line(cv.d)).attr('fill', 'none').attr('stroke', '#fff')
            .attr('stroke-width', 9).attr('stroke-linecap', 'round').attr('stroke-dasharray', '0 9');
        } else {
          g.append('path').attr('d', line(cv.d)).attr('fill', 'none').attr('stroke', cv.c)
            .attr('stroke-width', cv.w).attr('stroke-linejoin', 'round');
        }
      });

      g.selectAll('circle.pt').data(p.pts).join('circle')
        .attr('class', 'pt')
        .attr('cx', (d) => x(d[0])).attr('cy', (d) => y(d[1])).attr('r', 6.5)
        .attr('fill', 'none').attr('stroke', PTC).attr('stroke-width', 2.3);

      // axes with inward ticks
      const major = d3.axisBottom(x).tickValues(p.major).tickSize(-18).tickPadding(24).tickFormat(d3.format('d'));
      const minor = d3.axisBottom(x).tickValues(p.minor).tickSize(-10).tickFormat(() => '');
      const gMaj = g.append('g').attr('transform', `translate(0,${b})`).call(major);
      const gMin = g.append('g').attr('transform', `translate(0,${b})`).call(minor);
      [gMaj, gMin].forEach((ga) => {
        ga.select('.domain').remove();
        ga.selectAll('line').attr('stroke', '#111').attr('stroke-width', 3);
      });
      gMaj.selectAll('text').attr('font-family', FONT).attr('font-size', 43).attr('font-weight', 'bold').attr('fill', '#000');

      g.append('rect').attr('x', l).attr('y', t).attr('width', r - l).attr('height', b - t)
        .attr('fill', 'none').attr('stroke', '#1a1a1a').attr('stroke-width', 3.5);

      g.append('text').attr('x', (l + r) / 2).attr('y', b + 107).attr('text-anchor', 'middle')
        .attr('font-family', FONT).attr('font-weight', 'bold').attr('font-size', 55).text('Binding energy (eV)');
      g.append('text').attr('transform', `translate(${l - 11},${(t + b) / 2}) rotate(-90)`).attr('text-anchor', 'middle')
        .attr('font-family', FONT).attr('font-weight', 'bold').attr('font-size', 56).text('Intensity (a.u.)');

      g.append('text').attr('x', x(p.letter[1])).attr('y', y(p.letter[2]))
        .attr('font-family', FONT).attr('font-weight', 'bold').attr('font-size', 132).text(p.letter[0]);
      g.append('text').attr('x', x(p.title[1])).attr('y', y(p.title[2])).attr('text-anchor', 'end')
        .attr('font-family', FONT).attr('font-weight', 'bold').attr('font-size', 68).text(p.title[0]);

      p.labels.forEach((lb) => {
        const txt = g.append('text').attr('x', x(lb.x)).attr('y', y(lb.y))
          .attr('font-family', FONT).attr('font-weight', 'bold').attr('font-size', 58)
          .style('white-space', 'pre');
        let cur = 0;
        lb.parts.forEach(([s, m]) => {
          const off = m === 'sub' ? 15 : m === 'sup' ? -20 : 0;
          txt.append('tspan').attr('dy', off - cur).attr('font-size', m ? 40 : 58).text(s);
          cur = off;
        });
      });

      p.arrows.forEach(([x1, y1, x2, y2]) => {
        const ax1 = x(x1), ay1 = y(y1), ax2 = x(x2), ay2 = y(y2);
        const len = Math.hypot(ax2 - ax1, ay2 - ay1);
        const ux = (ax2 - ax1) / len, uy = (ay2 - ay1) / len;
        const hl = 36, hw = 17;
        const bx = ax2 - ux * hl, by = ay2 - uy * hl;
        g.append('line').attr('x1', ax1).attr('y1', ay1).attr('x2', bx + ux * 3).attr('y2', by + uy * 3)
          .attr('stroke', '#000').attr('stroke-width', 10);
        g.append('polygon')
          .attr('points', `${ax2},${ay2} ${bx - uy * hw},${by + ux * hw} ${bx + uy * hw},${by - ux * hw}`)
          .attr('fill', '#000');
      });
    });
  }, []);

  return (
    <svg ref={svgRef} width={3777} height={3443} style={{ position: 'absolute', left: 0, top: 0, display: 'block' }} />
  );
};

export default App;
